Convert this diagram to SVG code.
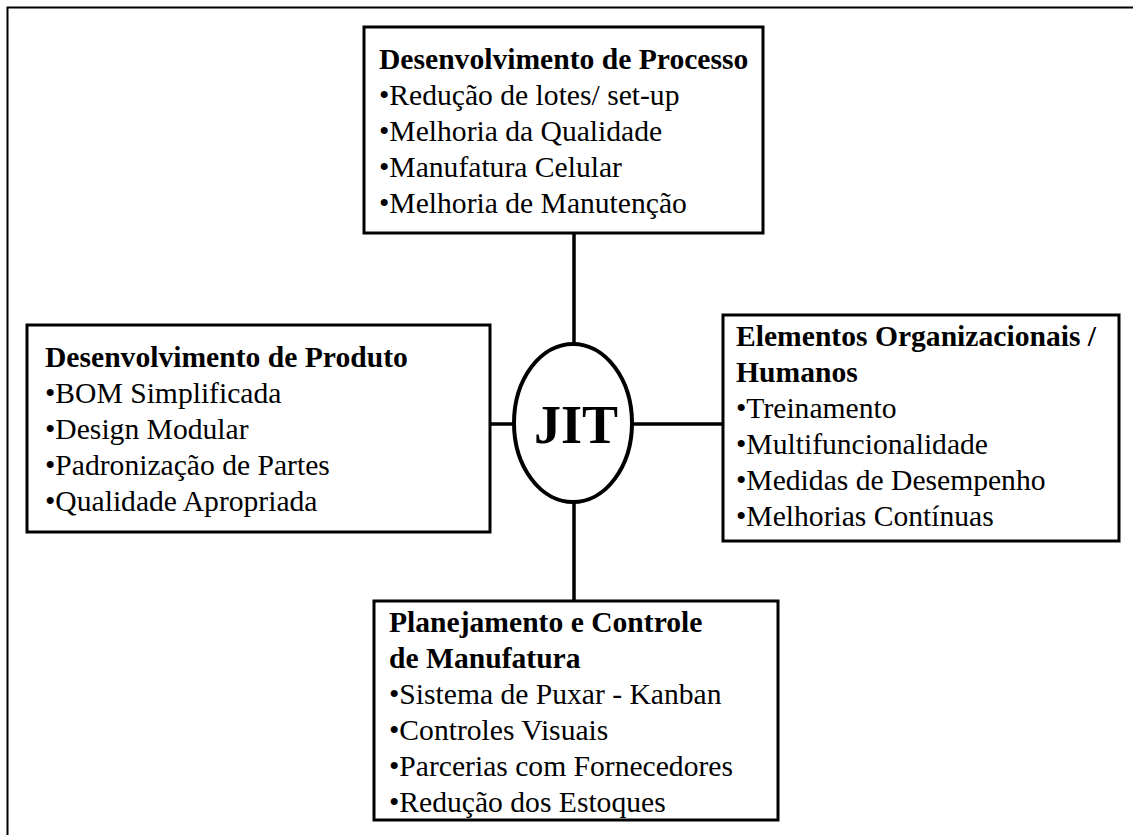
<svg xmlns="http://www.w3.org/2000/svg" width="1133" height="835" viewBox="0 0 1133 835">
<style>
.box{fill:#fff;stroke:#000;stroke-width:3}
.t{font-family:"Liberation Serif","Times New Roman",serif;font-size:29.6px;fill:#000}
.b{font-weight:bold}
.jit{font-size:54px}
.ln{stroke:#000;stroke-width:3.5;fill:none}
</style>
<rect x="0" y="0" width="1133" height="835" fill="#fff"/>
<path d="M7.5 835 V7.5 H1133" fill="none" stroke="#000" stroke-width="2"/>
<g id="connectors">
<line class="ln" x1="574" y1="233" x2="574" y2="345"/>
<line class="ln" x1="574" y1="501" x2="574" y2="601"/>
<line class="ln" x1="490" y1="424" x2="515" y2="424"/>
<line class="ln" x1="631" y1="424" x2="723" y2="424"/>
</g>
<g id="jit">
<ellipse cx="573" cy="423" rx="59" ry="79" fill="#fff" stroke="#000" stroke-width="4"/>
<text class="t b jit" x="576" y="443" text-anchor="middle">JIT</text>
</g>
<g id="processo">
<rect class="box" x="364" y="27" width="399" height="206"/>
<text class="t b" x="379" y="69">Desenvolvimento de Processo</text>
<text class="t" x="379" y="105">•Redução de lotes/ set-up</text>
<text class="t" x="379" y="141">•Melhoria da Qualidade</text>
<text class="t" x="379" y="177">•Manufatura Celular</text>
<text class="t" x="379" y="213">•Melhoria de Manutenção</text>
</g>
<g id="produto">
<rect class="box" x="27" y="325" width="463" height="207"/>
<text class="t b" x="45" y="367">Desenvolvimento de Produto</text>
<text class="t" x="45" y="403">•BOM Simplificada</text>
<text class="t" x="45" y="439">•Design Modular</text>
<text class="t" x="45" y="475">•Padronização de Partes</text>
<text class="t" x="45" y="511">•Qualidade Apropriada</text>
</g>
<g id="organizacionais">
<rect class="box" x="723" y="315" width="396" height="226"/>
<text class="t b" x="736" y="346">Elementos Organizacionais /</text>
<text class="t b" x="736" y="382">Humanos</text>
<text class="t" x="736" y="418">•Treinamento</text>
<text class="t" x="736" y="454">•Multifuncionalidade</text>
<text class="t" x="736" y="490">•Medidas de Desempenho</text>
<text class="t" x="736" y="526">•Melhorias Contínuas</text>
</g>
<g id="planejamento">
<rect class="box" x="374" y="601" width="404" height="219"/>
<text class="t b" x="389" y="632">Planejamento e Controle</text>
<text class="t b" x="389" y="668">de Manufatura</text>
<text class="t" x="389" y="704">•Sistema de Puxar - Kanban</text>
<text class="t" x="389" y="740">•Controles Visuais</text>
<text class="t" x="389" y="776">•Parcerias com Fornecedores</text>
<text class="t" x="389" y="812">•Redução dos Estoques</text>
</g>
</svg>
